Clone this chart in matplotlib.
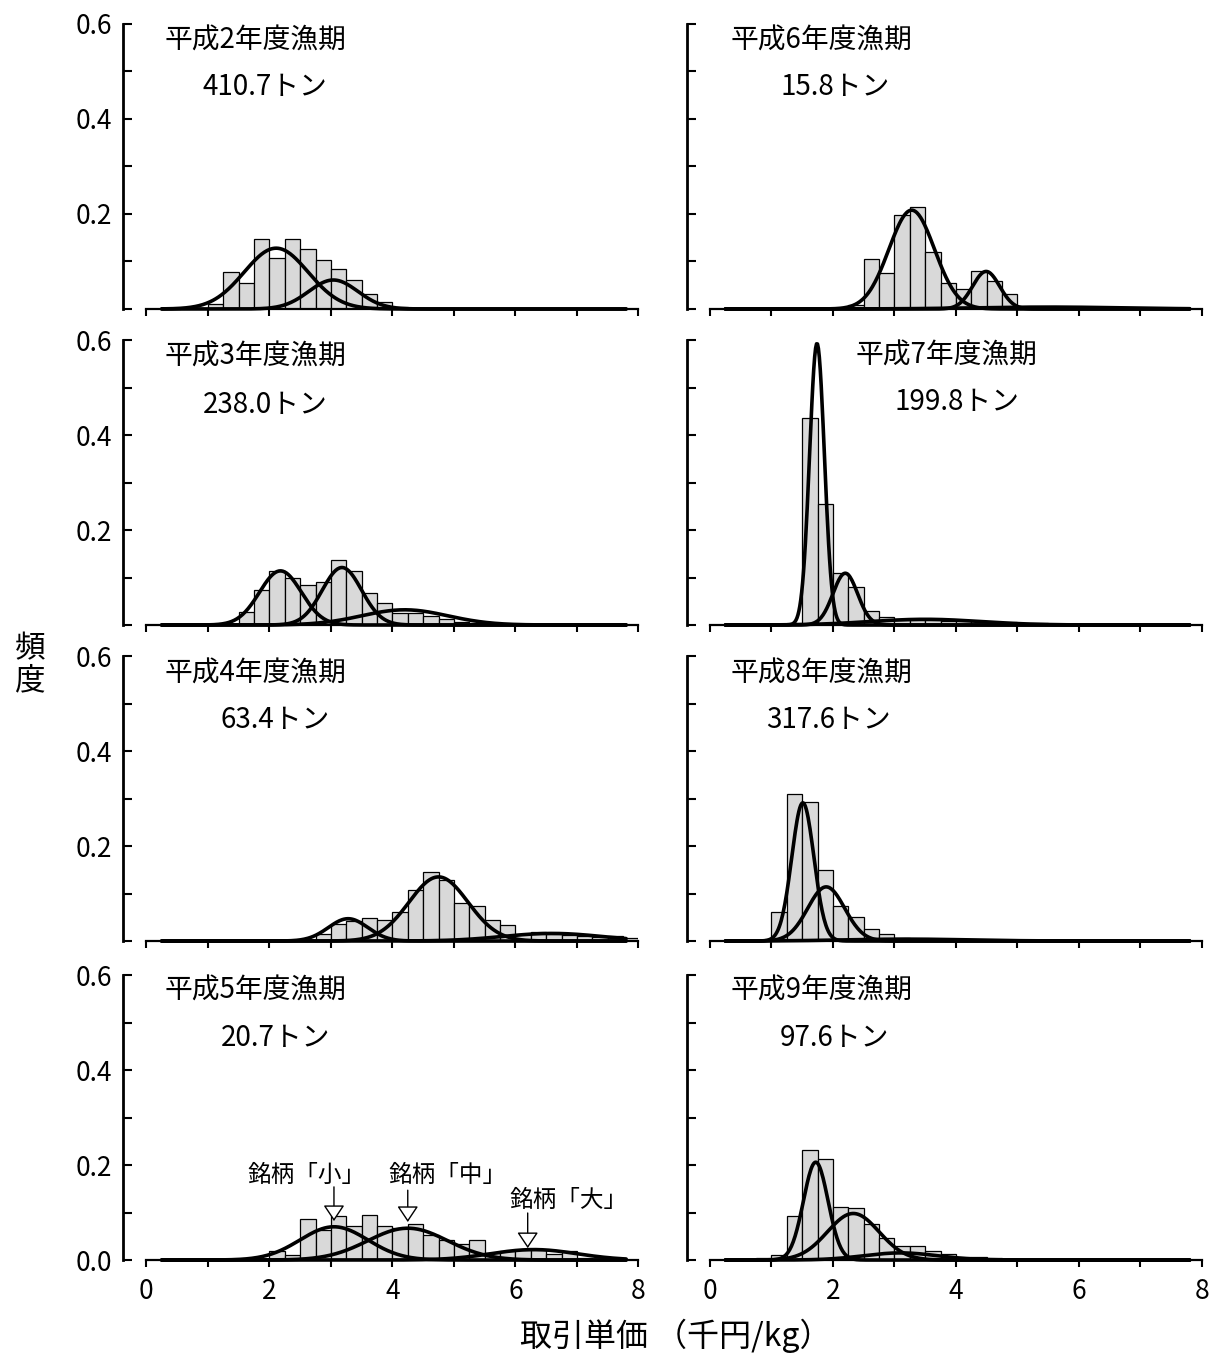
import numpy as np
import matplotlib
matplotlib.use('Agg')
import matplotlib.pyplot as plt
from matplotlib.ticker import FixedLocator, FixedFormatter

plt.rcParams['font.family'] = ['Noto Sans CJK JP', 'DejaVu Sans']

# panel order: left column top->bottom, then right column top->bottom
years = ['平成2年度漁期', '平成3年度漁期', '平成4年度漁期', '平成5年度漁期',
         '平成6年度漁期', '平成7年度漁期', '平成8年度漁期', '平成9年度漁期']
tons = ['410.7トン', '238.0トン', '63.4トン', '20.7トン',
        '15.8トン', '199.8トン', '317.6トン', '97.6トン']

bin_width = 0.25
bin_starts = [1.0, 1.5, 2.75, 2.0, 2.25, 1.25, 1.0, 0.75]

freq_h2 = [0.010, 0.077, 0.055, 0.147, 0.108, 0.147, 0.127, 0.104, 0.084, 0.062,
           0.031, 0.015, 0.005]
freq_h3 = [0.028, 0.074, 0.114, 0.100, 0.085, 0.090, 0.136, 0.114, 0.067, 0.046,
           0.025, 0.025, 0.019, 0.013, 0.007, 0.004]
freq_h4 = [0.014, 0.036, 0.042, 0.049, 0.044, 0.062, 0.107, 0.145, 0.128, 0.081,
           0.073, 0.044, 0.034, 0.015, 0.019, 0.015, 0.012, 0.010, 0.008, 0.010, 0.007]
freq_h5 = [0.018, 0.011, 0.086, 0.063, 0.093, 0.072, 0.095, 0.072, 0.067, 0.076,
           0.053, 0.042, 0.034, 0.042, 0.014, 0.019, 0.021, 0.022, 0.012, 0.018, 0.004]
freq_h6 = [0.008, 0.106, 0.075, 0.198, 0.215, 0.120, 0.055, 0.043, 0.081, 0.058,
           0.032, 0.004, 0.004, 0.003, 0.003, 0.003, 0.003, 0.003, 0.003, 0.002, 0.002, 0.002]
freq_h7 = [0.005, 0.435, 0.255, 0.109, 0.079, 0.029, 0.016, 0.011, 0.010, 0.010,
           0.009, 0.008, 0.008, 0.007, 0.006, 0.005, 0.004, 0.003, 0.002]
freq_h8 = [0.062, 0.309, 0.293, 0.150, 0.073, 0.051, 0.026, 0.014, 0.007, 0.005,
           0.004, 0.004, 0.003, 0.003, 0.003, 0.002]
freq_h9 = [0.005, 0.011, 0.093, 0.232, 0.212, 0.112, 0.109, 0.076, 0.046, 0.029,
           0.029, 0.018, 0.013, 0.007, 0.007, 0.005]
freqs = [freq_h2, freq_h3, freq_h4, freq_h5, freq_h6, freq_h7, freq_h8, freq_h9]

# fitted normal components: (mean, sd, peak height)
comp_h2 = [(2.11, 0.52, 0.128), (3.04, 0.40, 0.061)]
comp_h3 = [(2.18, 0.34, 0.114), (3.18, 0.32, 0.121), (4.20, 0.70, 0.032)]
comp_h4 = [(3.28, 0.32, 0.047), (4.75, 0.48, 0.135), (6.60, 0.80, 0.016)]
comp_h5 = [(3.05, 0.55, 0.070), (4.25, 0.65, 0.067), (6.30, 0.70, 0.022)]
comp_h6 = [(3.28, 0.37, 0.208), (4.49, 0.22, 0.079), (5.50, 1.20, 0.004)]
comp_h7 = [(1.74, 0.12, 0.593), (2.20, 0.20, 0.109), (3.50, 0.90, 0.012)]
comp_h8 = [(1.51, 0.18, 0.291), (1.89, 0.30, 0.114), (3.20, 1.00, 0.004)]
comp_h9 = [(1.72, 0.20, 0.206), (2.33, 0.42, 0.098), (3.10, 0.60, 0.015)]
comps = [comp_h2, comp_h3, comp_h4, comp_h5, comp_h6, comp_h7, comp_h8, comp_h9]

brand_labels = ['銘柄「小」', '銘柄「中」', '銘柄「大」']
brand_x = [3.05, 4.25, 6.2]

# layout (data coords for the text in each panel)
title_x = [0.3, 0.3, 0.3, 0.3, 0.33, 2.36, 0.33, 0.33]
tons_x = [1.93, 1.93, 2.1, 2.1, 2.03, 4.02, 1.92, 2.03]
title_y = [0.566, 0.564, 0.564, 0.568, 0.566, 0.568, 0.564, 0.568]
tons_y = [0.467, 0.463, 0.465, 0.467, 0.467, 0.469, 0.465, 0.467]

fig = plt.figure(figsize=(12.11, 13.54), dpi=100)
col_left = [123 / 1211, 686.6 / 1211]
row_bottom = [0.7718, 0.5384, 0.3050, 0.0694]
ax_w = 515.4 / 1211
ax_h = 285 / 1354
xleft = -0.38

xs = np.linspace(0.25, 7.8, 500)

for i in range(8):
    col = i // 4
    row = i % 4
    ax = fig.add_axes([col_left[col], row_bottom[row], ax_w, ax_h])
    h = freqs[i]
    edges = bin_starts[i] + bin_width * np.arange(len(h))
    ax.bar(edges, h, width=bin_width, align='edge', color='#d9d9d9',
           edgecolor='black', linewidth=0.9, zorder=2)
    for m, s, p in comps[i]:
        ax.plot(xs, p * np.exp(-0.5 * ((xs - m) / s) ** 2), color='black',
                lw=2.6, zorder=3, clip_on=False, solid_capstyle='round')

    ax.set_xlim(xleft, 8)
    ax.set_ylim(0, 0.6)
    ax.spines['top'].set_visible(False)
    ax.spines['right'].set_visible(False)
    ax.spines['bottom'].set_bounds(0, 8)
    ax.spines['left'].set_linewidth(2.0)
    ax.spines['bottom'].set_linewidth(1.6)
    ax.spines['bottom'].set_zorder(4)

    ax.xaxis.set_major_locator(FixedLocator(range(9)))
    if row == 3:
        ax.xaxis.set_major_formatter(FixedFormatter(['0', '', '2', '', '4', '', '6', '', '8']))
    else:
        ax.xaxis.set_major_formatter(FixedFormatter([''] * 9))
    ax.yaxis.set_major_locator(FixedLocator([0, 0.2, 0.4, 0.6]))
    ax.yaxis.set_minor_locator(FixedLocator([0.1, 0.3, 0.5]))
    if col == 0:
        lab0 = '0.0' if row == 3 else ''
        ax.yaxis.set_major_formatter(FixedFormatter([lab0, '0.2', '0.4', '0.6']))
    else:
        ax.yaxis.set_major_formatter(FixedFormatter([''] * 4))
    ax.tick_params(axis='x', direction='out', length=5, width=1.5, labelsize=19, pad=8)
    ax.tick_params(axis='y', which='both', direction='in', length=6.5, width=1.5,
                   labelsize=19, pad=8)

    ax.text(title_x[i], title_y[i], years[i], fontsize=20, ha='left', va='center')
    ax.text(tons_x[i], tons_y[i], tons[i], fontsize=20, ha='center', va='center')

    if i == 3:
        text_x = [2.61, 4.89, 6.87]
        text_y = [0.179, 0.179, 0.126]
        start_y = [0.154, 0.147, 0.099]
        tip_y = [0.082, 0.080, 0.025]
        for lab, bx, tx, ty, sy, py in zip(brand_labels, brand_x, text_x, text_y, start_y, tip_y):
            ax.text(tx, ty, lab, fontsize=17, ha='center', va='center')
            ax.annotate('', xy=(bx, py), xytext=(bx, sy),
                        arrowprops=dict(arrowstyle='-|>,head_width=0.3,head_length=0.45',
                                        fc='white', ec='black', lw=1.0,
                                        mutation_scale=22, shrinkA=0, shrinkB=0),
                        zorder=5)

fig.text(30 / 1211, 1 - 665 / 1354, '頻\n度', fontsize=22, ha='center', va='center',
         linespacing=1.05)
fig.text(676 / 1211, 1 - 1336 / 1354, '取引単価 （千円/kg）', fontsize=23,
         ha='center', va='center')

fig.savefig('out.png', dpi=100)
